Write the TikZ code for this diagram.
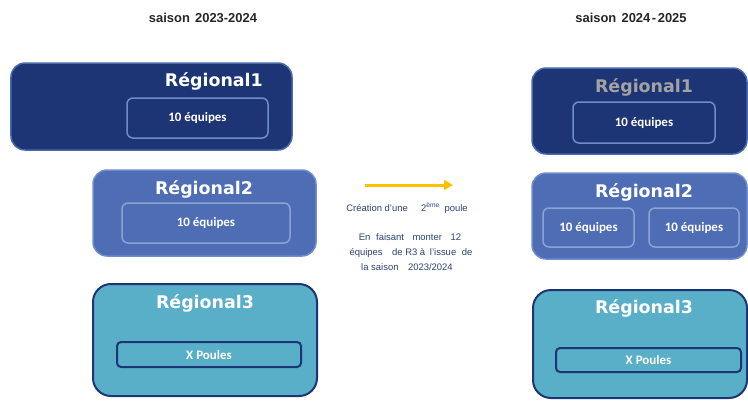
\documentclass[tikz,border=0pt]{standalone}
\usepackage{fontspec}
\setmainfont{Liberation Sans}
\newfontfamily\titlefont{DejaVu Sans}
\newfontfamily\calfont{Carlito}
\usetikzlibrary{arrows.meta}
\definecolor{navy}{HTML}{1D3574}
\definecolor{navyedge}{HTML}{4A69AE}
\definecolor{midblue}{HTML}{4E6DB4}
\definecolor{midedge}{HTML}{6F8CCB}
\definecolor{teal}{HTML}{58AFC7}
\definecolor{darkedge}{HTML}{1D3574}
\definecolor{greytitle}{HTML}{A3A3A3}
\definecolor{midtext}{HTML}{2E4272}
\definecolor{gold}{HTML}{FFC000}
\tikzset{
  regbox/.style={rectangle, rounded corners=14bp, inner sep=0pt},
  r1box/.style={regbox, fill=navy, draw=navyedge, line width=1.5bp},
  r2box/.style={regbox, fill=midblue, draw=midedge, line width=1.5bp},
  r3box/.style={regbox, rounded corners=18bp, fill=teal, draw=darkedge, line width=2bp},
  innerbox/.style={rectangle, rounded corners=6bp, inner sep=0pt, line width=1.5bp},
  in1/.style={innerbox, draw=midedge},
  in2/.style={innerbox, draw=midedge!80!white},
  in3/.style={innerbox, rounded corners=4bp, draw=darkedge, line width=2bp},
  regtitle/.style={font=\titlefont\bfseries\fontsize{17.5}{20}\selectfont, text=white, inner sep=0pt},
  teamtext/.style={font=\calfont\bfseries\fontsize{13}{15}\selectfont, text=white, inner sep=0pt},
  season/.style={font=\bfseries\fontsize{13}{15}\selectfont, text=black!85, inner sep=0pt},
  midnote/.style={font=\fontsize{9.5}{11}\selectfont, text=midtext, inner sep=0pt},
}
\begin{document}
\begin{tikzpicture}[x=1bp, y=-1bp]
\useasboundingbox (0,0) rectangle (748,400);

% season headers
\node[season] (s1) at (203,18) {saison\hspace{0.4em}2023-2024};
\node[season] (s2) at (631,18) {saison\hspace{0.4em}2024\hspace{0.12em}-\hspace{0.12em}2025};

% left column
\node[r1box, minimum width=281bp, minimum height=87bp] (l1) at (151.5,106.5) {};
\node[regtitle, anchor=east] (l1t) at (263,81) {Régional1};
\node[in1, minimum width=141bp, minimum height=40bp] (l1i) at (197.5,118) {};
\node[teamtext] at (l1i) {10 équipes};

\node[r2box, minimum width=223bp, minimum height=86bp] (l2) at (204.5,213) {};
\node[regtitle] (l2t) at (204,189) {Régional2};
\node[in2, minimum width=168bp, minimum height=40bp] (l2i) at (206,223) {};
\node[teamtext] at (l2i) {10 équipes};

\node[r3box, minimum width=224bp, minimum height=112bp] (l3) at (205,340) {};
\node[regtitle] (l3t) at (205,303) {Régional3};
\node[in3, minimum width=184bp, minimum height=25bp] (l3i) at (209,354.5) {};
\node[teamtext] at (l3i) {X Poules};

% right column
\node[r1box, minimum width=215bp, minimum height=86bp] (r1) at (639.5,111) {};
\node[regtitle, text=greytitle] (r1t) at (644,87) {Régional1};
\node[in1, minimum width=142bp, minimum height=41bp] (r1i) at (644,122.5) {};
\node[teamtext] at (r1i) {10 équipes};

\node[r2box, minimum width=215bp, minimum height=86bp] (r2) at (639.5,216) {};
\node[regtitle] (r2t) at (644,192) {Régional2};
\node[in2, minimum width=91bp, minimum height=39bp] (r2a) at (588.5,227.5) {};
\node[teamtext] at (r2a) {10 équipes};
\node[in2, minimum width=90bp, minimum height=39bp] (r2b) at (694,227.5) {};
\node[teamtext] at (r2b) {10 équipes};

\node[r3box, minimum width=214bp, minimum height=108bp] (r3) at (640,344) {};
\node[regtitle] (r3t) at (644,308) {Régional3};
\node[in3, minimum width=185bp, minimum height=24bp] (r3i) at (648.5,360) {};
\node[teamtext] at (r3i) {X Poules};

% middle arrow and notes
\coordinate (a0) at (365,185);
\coordinate (a1) at (453,185);
\draw[gold, line width=3bp, -{Triangle[length=9bp,width=10bp]}] (a0) -- (a1);

\node[midnote] (n1) at (407,208) {Création d'une\hspace{1.4em}2\textsuperscript{ème}\hspace{0.5em}poule};
\node[midnote] (n2) at (410,237) {En\hspace{0.6em}faisant\hspace{0.9em}monter\hspace{0.9em}12};
\node[midnote] (n3) at (411,253) {équipes\hspace{1em}de R3 à\hspace{0.5em}l'issue\hspace{0.6em}de};
\node[midnote] (n4) at (407,267) {la saison\hspace{1em}2023/2024};
\end{tikzpicture}
\end{document}
